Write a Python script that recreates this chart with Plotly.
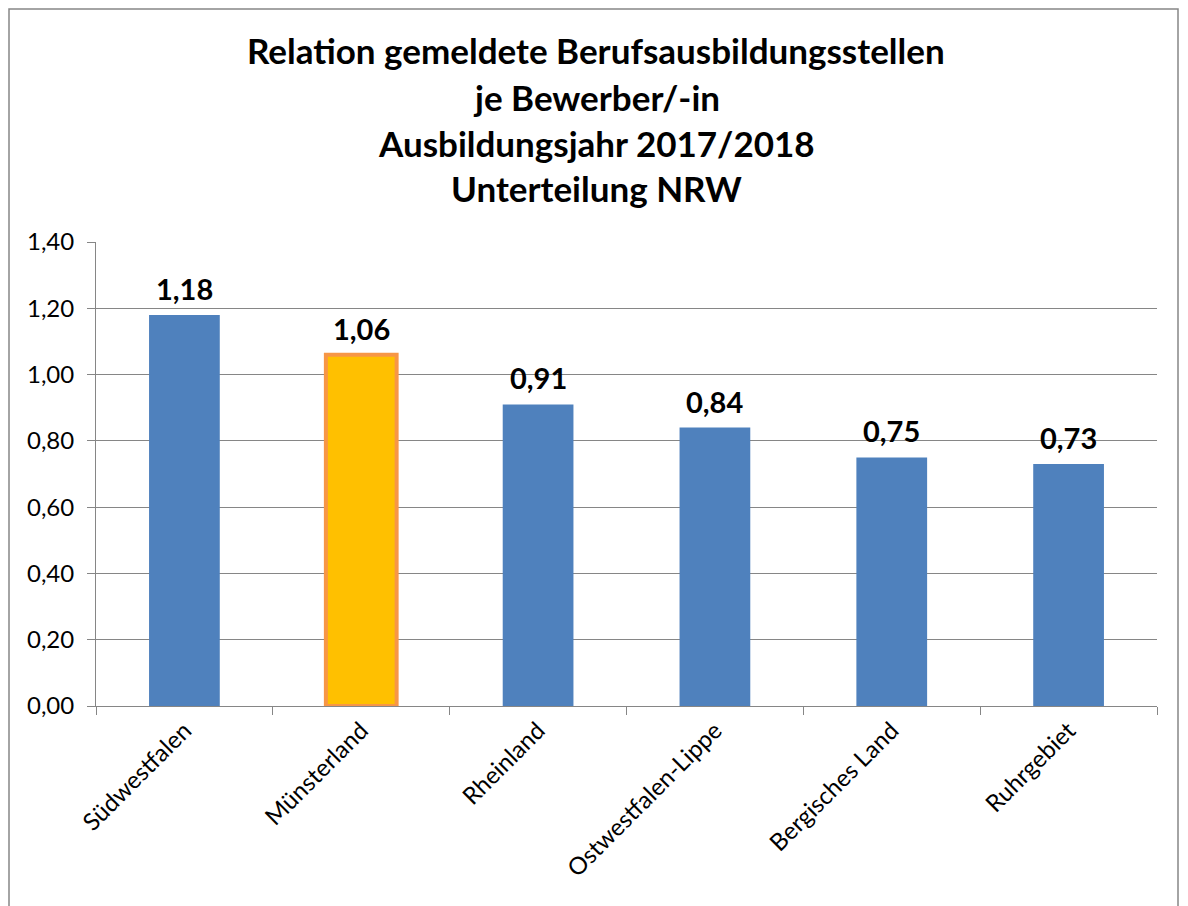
import plotly.graph_objects as go

categories = ["Südwestfalen", "Münsterland", "Rheinland", "Ostwestfalen-Lippe", "Bergisches Land", "Ruhrgebiet"]
values = [1.18, 1.06, 0.91, 0.84, 0.75, 0.73]
highlight = "Münsterland"
title_lines = ["Relation gemeldete Berufsausbildungsstellen", "je Bewerber/-in",
               "Ausbildungsjahr 2017/2018", "Unterteilung NRW"]
y_ticks = [0.0, 0.2, 0.4, 0.6, 0.8, 1.0, 1.2, 1.4]

FONT = "Lato"
colors = ["#FFC000" if c == highlight else "#4F81BD" for c in categories]
line_colors = ["#F79646" if c == highlight else "#4F81BD" for c in categories]
line_widths = [4 if c == highlight else 0 for c in categories]

fig = go.Figure(go.Bar(
    x=categories, y=values,
    marker=dict(color=colors, line=dict(color=line_colors, width=line_widths)),
    cliponaxis=False,
))

# data labels from values
for c, v in zip(categories, values):
    fig.add_annotation(x=c, y=v, xref="x", yref="y", text="<b>" + f"{v:.2f}".replace(".", ",") + "</b>",
                       showarrow=False, xanchor="center", yanchor="bottom", yshift=7,
                       font=dict(family=FONT, size=29, color="black"))

# page has 8px body margin, so figure coordinates = page coordinates - 8
W, H = 1180, 898
L, T = 88, 234
pw, ph = 1061, 464
R, B = W - L - pw, H - T - ph
plot_bottom = T + ph

fig.update_layout(
    width=W, height=H, margin=dict(l=L, r=R, t=T, b=B),
    paper_bgcolor="white", plot_bgcolor="white",
    separators=",.", bargap=0.6, showlegend=False,
    font=dict(family=FONT, color="black"),
)
fig.update_yaxes(
    range=[0, 1.4], tickvals=y_ticks, tickformat=".2f",
    showgrid=True, gridcolor="#868686", gridwidth=1,
    showline=True, linecolor="#868686", linewidth=1,
    ticks="outside", ticklen=8, tickcolor="#868686", ticklabelstandoff=8,
    tickfont=dict(family=FONT, size=24, color="black"), zeroline=False,
)
fig.update_xaxes(
    showline=True, linecolor="#868686", linewidth=1,
    ticks="outside", ticklen=8, tickcolor="#868686", tickson="boundaries",
    tickangle=-45, tickfont=dict(family=FONT, size=24, color="black"),
    mirror=False,
)

# title lines (figure pixel positions)
line_y = [42, 89, 135, 180]
for txt, yy in zip(title_lines, line_y):
    fig.add_annotation(text="<b>" + txt + "</b>", xref="paper", yref="paper",
                       x=(588 - L) / pw, y=(plot_bottom - yy) / ph, showarrow=False,
                       xanchor="center", yanchor="middle",
                       font=dict(family=FONT, size=35, color="black"))

# outer border
fig.add_shape(type="rect", xref="paper", yref="paper",
              x0=(1 - L) / pw, x1=(1170 - L) / pw,
              y0=(plot_bottom - 920) / ph, y1=(plot_bottom - 1) / ph,
              line=dict(color="#868686", width=1.5), fillcolor="rgba(0,0,0,0)", layer="below")

fig.write_html("out.html")
